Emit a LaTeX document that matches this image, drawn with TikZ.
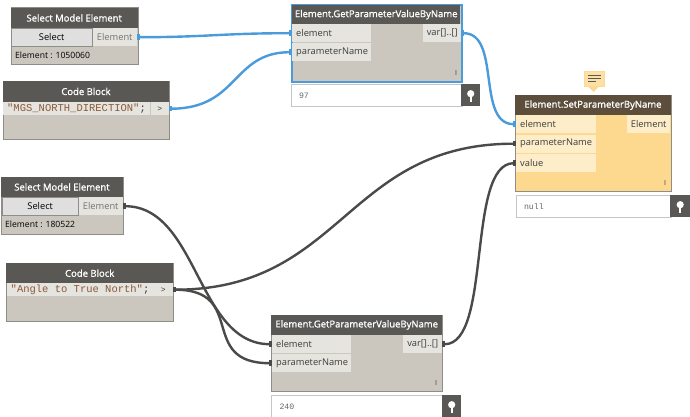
\documentclass[tikz,border=0pt]{standalone}
\usepackage{fontspec}
\setmainfont{Open Sans}
\setmonofont{Liberation Mono}
\newfontfamily\headfont[FakeBold=1.2]{Open Sans}
\usetikzlibrary{arrows.meta,calc}
\definecolor{headgray}{HTML}{5A5855}
\definecolor{bodygray}{HTML}{CBC6BE}
\definecolor{rowgray}{HTML}{E5E4DF}
\definecolor{edgegray}{HTML}{8F8D88}
\definecolor{headbrown}{HTML}{5C4E3A}
\definecolor{bodygold}{HTML}{FDD88F}
\definecolor{rowgold}{HTML}{FDEDC8}
\definecolor{wireblue}{HTML}{4A9BDC}
\definecolor{wiredark}{HTML}{4A4A48}
\definecolor{strbrown}{HTML}{8A5A3A}
\definecolor{txtdark}{HTML}{3C3C3C}

\begin{document}
\begin{tikzpicture}[
    x=1pt,
    y=-1pt,
    >={Square[length=3pt,width=5.5pt]},
    body/.style={draw=edgegray, line width=1pt, fill=bodygray, anchor=north west, inner sep=0pt},
    head/.style={fill=headgray, anchor=north west, inner sep=0pt, text=white, font=\fontsize{9.5}{11}\headfont},
    row/.style={fill=rowgray, anchor=north west, inner xsep=4pt, inner ysep=0pt, minimum height=18pt, align=left, text=txtdark, font=\fontsize{9.3}{11}\selectfont},
    port/.style={fill=rowgray, anchor=north west, inner sep=0pt, minimum height=18pt, text=txtdark, font=\fontsize{9.3}{11}\selectfont},
    btn/.style={draw=edgegray, fill=gray!25, anchor=north west, inner sep=0pt, minimum height=18pt, text=black, font=\fontsize{9.3}{11}\selectfont},
    code/.style={fill=rowgray, anchor=north west, inner xsep=4pt, inner ysep=0pt, minimum height=13pt, text=strbrown, font=\fontsize{10.5}{12}\ttfamily, execute at begin node={\spaceskip=0.6em\relax}},
    info/.style={anchor=west, inner sep=0pt, text=black, font=\fontsize{8.6}{11}\selectfont},
    lace/.style={inner sep=0pt, text=txtdark, font=\fontsize{7}{8}\selectfont},
    watch/.style={draw=gray!45, line width=1pt, fill=white, anchor=north west, inner xsep=8pt, inner ysep=0pt, minimum height=22pt, align=left, text=black!60, font=\fontsize{8.2}{10}\ttfamily},
    pinbox/.style={fill=headgray, anchor=north west, inner sep=0pt, minimum width=19pt, minimum height=22pt,
        path picture={
            \fill[white] ($(path picture bounding box.center)+(0,-1.5)$) circle (3.6pt);
            \fill[white] ($(path picture bounding box.center)+(-1,0)$) rectangle ($(path picture bounding box.center)+(1,7)$);
        }},
    wire/.style={line width=2.4pt, <->},
    bluewire/.style={wire, draw=wireblue},
    darkwire/.style={wire, draw=wiredark}
]
\useasboundingbox (0,0) rectangle (690,417);

% top left
\node[body, minimum width=127pt, minimum height=57pt] (selA) at (10.5,7.5) {};
\node[head, minimum width=127pt, minimum height=20.5pt] (selAhead) at (10.5,7.5) {Select Model Element};
\node[btn, minimum width=81pt] (selAbtn) at (11,28) {Select};
\node[port, minimum width=44pt, text=gray!90!black] (selAout) at (92.5,28) {Element};
\node[info] (selAinfo) at (15,55.5) {Element : 1050060};

\node[body, minimum width=166.5pt, minimum height=58pt] (codeA) at (2.5,81) {};
\node[head, minimum width=166.5pt, minimum height=20.5pt] (codeAhead) at (2.5,81) {Code Block};
\node[code, text width=139pt, minimum width=147pt] (codeAtxt) at (3,102) {"MGS\_NORTH\_DIRECTION"\textcolor{txtdark}{;}};
\node[port, minimum width=18pt, minimum height=13pt, font=\fontsize{8}{9}\ttfamily] (codeAout) at (150.5,102) {>};

% top middle
\node[body, draw=wireblue, line width=2pt, minimum width=170pt, minimum height=77pt] (getA) at (291,4) {};
\node[head, minimum width=168pt, minimum height=19pt] (getAhead) at (292,5) {Element.GetParameterValueByName};
\node[row, text width=71pt] (getAel) at (292,24) {element};
\node[row, text width=71pt] (getAname) at (292,43) {parameterName};
\node[port, minimum width=38pt] (getAout) at (423,24) {var[]..[]};
\node[lace] (getAlace) at (456,73) {I};
\node[watch, text width=155pt] (watchA) at (290.5,84) {97};
\node[pinbox] (pinA) at (461,84) {};

% right
\node[fill=bodygold!80!white, draw=bodygold, line width=1pt, anchor=north west, inner sep=0pt, minimum width=20pt, minimum height=15pt] (note) at (583.5,71) {};
\fill[bodygold] (note.south west) ++(5,0) -- ++(5,5) -- ++(5,-5) -- cycle;
\draw[headgray, line width=1pt] ($(note.center)+(-6,-3)$) -- ++(13,0) ($(note.center)+(-6,0)$) -- ++(13,0) ($(note.center)+(-6,3)$) -- ++(8,0);

\node[body, fill=bodygold, minimum width=155.5pt, minimum height=96pt] (setA) at (515,95) {};
\node[head, fill=headbrown, minimum width=155.5pt, minimum height=20pt] (setAhead) at (515,95) {Element.SetParameterByName};
\node[row, fill=rowgold, text width=72pt] (setAel) at (516,115) {element};
\node[row, fill=rowgold, text width=72pt] (setAname) at (516,134.5) {parameterName};
\node[row, fill=rowgold, text width=72pt] (setAval) at (516,154) {value};
\node[port, fill=rowgold, minimum width=43pt] (setAout) at (627,115) {Element};
\node[lace] (setAlace) at (665,183) {I};
\node[watch, text width=139pt] (watchB) at (515.5,195) {null};
\node[pinbox, minimum width=20pt] (pinB) at (670,195) {};

% lower left
\node[body, minimum width=121.5pt, minimum height=57.5pt] (selB) at (1,176.5) {};
\node[head, minimum width=121.5pt, minimum height=20.5pt] (selBhead) at (1,176.5) {Select Model Element};
\node[btn, minimum width=76pt] (selBbtn) at (2,197) {Select};
\node[port, minimum width=44pt, text=gray!90!black] (selBout) at (78.5,197) {Element};
\node[info] (selBinfo) at (5,224.5) {Element : 180522};

\node[body, minimum width=167pt, minimum height=58pt] (codeB) at (6,263) {};
\node[head, minimum width=167pt, minimum height=20pt] (codeBhead) at (6,263) {Code Block};
\node[code, text width=139pt, minimum width=147pt] (codeBtxt) at (6.5,283) {"Angle to True North"\textcolor{txtdark}{;}};
\node[port, minimum width=19pt, minimum height=13pt, font=\fontsize{8}{9}\ttfamily] (codeBout) at (153.5,283) {>};

% lower middle
\node[body, minimum width=171pt, minimum height=76pt] (getB) at (271,315) {};
\node[head, minimum width=171pt, minimum height=19.5pt] (getBhead) at (271,315) {Element.GetParameterValueByName};
\node[row, text width=71pt] (getBel) at (272,335) {element};
\node[row, text width=71pt] (getBname) at (272,354) {parameterName};
\node[port, minimum width=39pt] (getBout) at (403,335) {var[]..[]};
\node[lace] (getBlace) at (436,383) {I};
\node[watch, text width=155pt] (watchC) at (271,395) {240};
\node[pinbox] (pinC) at (442,395) {};

\draw[bluewire] (selAout.east) .. controls +(70,0) and +(-70,0) .. (getAel.west);
\draw[bluewire] (codeAout.east) .. controls +(70,0) and +(-60,0) .. (getAname.west);
\draw[bluewire] (getAout.east) .. controls +(40,0) and +(-40,0) .. (setAel.west);
\draw[darkwire] (selBout.east) .. controls +(75,0) and +(-75,0) .. (getBel.west);
\draw[darkwire] (codeBout.east) .. controls +(75,0) and +(-75,0) .. (getBname.west);
\draw[darkwire] (codeBout.east) .. controls +(170,0) and +(-170,0) .. (setAname.west);
\draw[darkwire] (getBout.east) .. controls +(50,0) and +(-50,0) .. (setAval.west);
\end{tikzpicture}
\end{document}
